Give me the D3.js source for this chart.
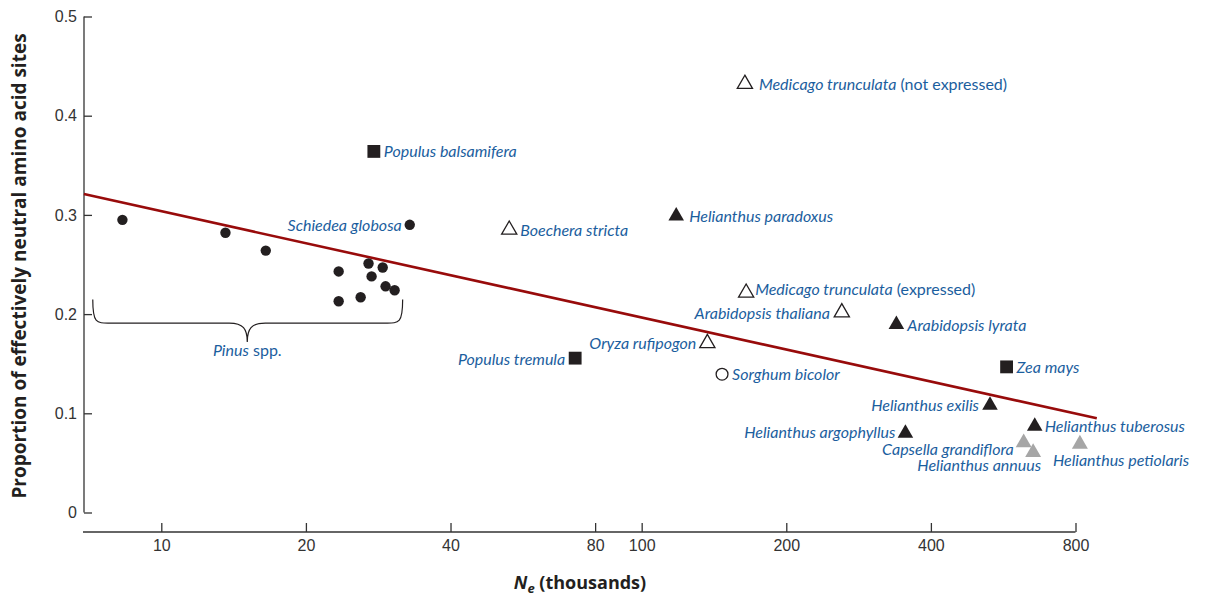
<!DOCTYPE html>
<html>
<head>
<meta charset="utf-8">
<script src="https://cdn.jsdelivr.net/npm/d3@7"></script>
<style>
  body { margin: 0; background: #fff; }
  svg { display: block; font-family: Lato, "Open Sans", sans-serif; }
  .tick text { font-size: 16px; fill: #333; }
  .lbl { font-size: 16px; fill: #1b5e9e; font-style: italic; }
  .lbl .up { font-style: normal; }
  .title { font-family: "Open Sans", sans-serif; font-size: 18px; font-weight: bold; fill: #231f20; }
</style>
</head>
<body>
<div id="chart"></div>
<script>

// Pinus spp. (filled circles)
var pinusNe   = [8.3, 13.6, 16.5, 23.4, 27.0, 28.9, 27.4, 29.3, 30.6, 23.4, 26.0];
var pinusProp = [0.295, 0.282, 0.264, 0.243, 0.251, 0.247, 0.238, 0.228, 0.224, 0.213, 0.217];

// labelled species
var speciesNames = ["Schiedea globosa", "Populus balsamifera", "Medicago trunculata|(not expressed)",
	"Helianthus paradoxus", "Boechera stricta", "Medicago trunculata|(expressed)", "Arabidopsis thaliana",
	"Arabidopsis lyrata", "Oryza rufipogon", "Populus tremula", "Sorghum bicolor", "Zea mays",
	"Helianthus exilis", "Helianthus argophyllus", "Helianthus tuberosus", "Capsella grandiflora",
	"Helianthus annuus", "Helianthus petiolaris"];
var speciesNe   = [32.9, 27.7, 164, 118, 53.0, 165, 261, 339, 137, 72.7, 147, 575, 531, 354, 658, 624, 653, 817];
var speciesProp = [0.290, 0.364, 0.432, 0.299, 0.285, 0.2215, 0.2017, 0.1896, 0.1707, 0.1556, 0.1394, 0.1468,
	0.108, 0.080, 0.087, 0.0704, 0.0606, 0.069];
var speciesMarker = ["dot", "square", "openTri", "tri", "openTri", "openTri", "openTri", "tri", "openTri",
	"square", "openCircle", "square", "tri", "tri", "tri", "greyTri", "greyTri", "greyTri"];

// fitted regression line (end points)
var fitNe   = [6.9, 886];
var fitProp = [0.321, 0.095];

var xTicks = [10, 20, 40, 80, 100, 200, 400, 800];
var yTicks = [0, 0.1, 0.2, 0.3, 0.4, 0.5];

// label offsets from the marker: [dx, dy, anchor]
var labelPos = {
	"Schiedea globosa": [-8, 6, "end"],
	"Populus balsamifera": [10, 6, "start"],
	"Medicago trunculata|(not expressed)": [14, 6, "start"],
	"Helianthus paradoxus": [13, 6, "start"],
	"Boechera stricta": [11, 6, "start"],
	"Medicago trunculata|(expressed)": [9, 2, "start"],
	"Arabidopsis thaliana": [-12, 7, "end"],
	"Arabidopsis lyrata": [11, 7, "start"],
	"Oryza rufipogon": [-11, 6, "end"],
	"Populus tremula": [-10, 7, "end"],
	"Sorghum bicolor": [10, 6, "start"],
	"Zea mays": [10, 6, "start"],
	"Helianthus exilis": [-11, 6, "end"],
	"Helianthus argophyllus": [-10, 5, "end"],
	"Helianthus tuberosus": [10, 6, "start"],
	"Capsella grandiflora": [-10, 12, "end"],
	"Helianthus annuus": [8, 19, "end"],
	"Helianthus petiolaris": [-27, 22, "start"]
};

var width = 1206, height = 596;

var svg = d3.select("#chart").append("svg")
	.attr("width", width)
	.attr("height", height);

var x = d3.scaleLog().domain([10, 800]).range([161.3, 1075.5]);
var y = d3.scaleLinear().domain([0, 0.5]).range([512.5, 16.5]);

// y axis
var yAxis = svg.append("g")
	.attr("transform", "translate(84,0)")
	.call(d3.axisRight(y).tickValues(yTicks).tickSize(8).tickPadding(0)
		.tickFormat(function(d) { return d === 0 ? "0" : d3.format(".1f")(d); }));
yAxis.select(".domain").attr("d", "M0," + y(0.5) + "V" + y(0)).attr("stroke", "#333").attr("stroke-width", 1.3);
yAxis.selectAll(".tick line").attr("stroke", "#333").attr("stroke-width", 1.3);
yAxis.selectAll(".tick text").attr("x", -7).attr("text-anchor", "end");

// x axis
var xAxis = svg.append("g")
	.attr("transform", "translate(0,532)")
	.call(d3.axisTop(x).tickValues(xTicks).tickSize(9).tickFormat(d3.format("d")));
xAxis.select(".domain").attr("d", "M83,0H" + x(800)).attr("stroke", "#333").attr("stroke-width", 1.3);
xAxis.selectAll(".tick line").attr("stroke", "#333").attr("stroke-width", 1.3);
xAxis.selectAll(".tick text").attr("y", 19).attr("dy", 0);

// axis titles
svg.append("text").attr("class", "title")
	.attr("transform", "translate(26,266) rotate(-90)")
	.attr("text-anchor", "middle")
	.style("font-size", "19px")
	.text("Proportion of effectively neutral amino acid sites");

var xt = svg.append("text").attr("class", "title")
	.attr("x", 580).attr("y", 589)
	.attr("text-anchor", "middle");
xt.append("tspan").style("font-style", "italic").text("N");
xt.append("tspan").attr("dy", 4).style("font-size", "13px").style("font-style", "italic").text("e");
xt.append("tspan").attr("dy", -4).text(" (thousands)");

// regression line
svg.append("line")
	.attr("x1", x(fitNe[0])).attr("y1", y(fitProp[0]))
	.attr("x2", x(fitNe[1])).attr("y2", y(fitProp[1]))
	.attr("stroke", "#980b0b").attr("stroke-width", 2.6);

// Pinus points
svg.append("g").selectAll("circle")
	.data(d3.range(pinusNe.length))
	.join("circle")
	.attr("cx", function(i) { return x(pinusNe[i]); })
	.attr("cy", function(i) { return y(pinusProp[i]); })
	.attr("r", 5.2)
	.attr("fill", "#231f20");

// brace under Pinus
var bL = x(7.2), bR = x(31.8), bM = x(15.1);
var bTop = y(0.2146), bMid = y(0.191), bTip = y(0.172);
svg.append("path")
	.attr("d", "M" + bL + "," + bTop +
		"C" + bL + "," + (bMid + 2) + " " + (bL + 4) + "," + bMid + " " + (bL + 20) + "," + bMid +
		"L" + (bM - 18) + "," + bMid +
		"C" + (bM - 4) + "," + bMid + " " + bM + "," + (bMid + 6) + " " + bM + "," + bTip +
		"C" + bM + "," + (bMid + 6) + " " + (bM + 4) + "," + bMid + " " + (bM + 18) + "," + bMid +
		"L" + (bR - 20) + "," + bMid +
		"C" + (bR - 4) + "," + bMid + " " + bR + "," + (bMid + 2) + " " + bR + "," + bTop)
	.attr("fill", "none").attr("stroke", "#231f20").attr("stroke-width", 1.2);

var pl = svg.append("text").attr("class", "lbl")
	.attr("x", bM).attr("y", bTip + 14).attr("text-anchor", "middle");
pl.append("tspan").text("Pinus");
pl.append("tspan").attr("class", "up").text(" spp.");

// species markers
var sym = {
	dot: d3.symbol().type(d3.symbolCircle).size(85),
	square: d3.symbol().type(d3.symbolSquare).size(165),
	tri: d3.symbol().type(d3.symbolTriangle).size(105),
	openTri: d3.symbol().type(d3.symbolTriangle).size(100),
	greyTri: d3.symbol().type(d3.symbolTriangle).size(110),
	openCircle: d3.symbol().type(d3.symbolCircle).size(110)
};

var pts = svg.append("g").selectAll("g")
	.data(d3.range(speciesNames.length))
	.join("g")
	.attr("transform", function(i) { return "translate(" + x(speciesNe[i]) + "," + y(speciesProp[i]) + ")"; });

pts.append("path")
	.attr("d", function(i) { return sym[speciesMarker[i]](); })
	.attr("fill", function(i) {
		var m = speciesMarker[i];
		if (m === "openTri" || m === "openCircle") return "#fff";
		if (m === "greyTri") return "#a6a6a6";
		return "#231f20";
	})
	.attr("stroke", function(i) {
		var m = speciesMarker[i];
		return (m === "openTri" || m === "openCircle") ? "#231f20" : "none";
	})
	.attr("stroke-width", 1.3);

pts.each(function(i) {
	var name = speciesNames[i], p = labelPos[name], parts = name.split("|");
	var t = d3.select(this).append("text").attr("class", "lbl")
		.attr("x", p[0]).attr("y", p[1]).attr("text-anchor", p[2]);
	t.append("tspan").text(parts[0]);
	if (parts[1]) t.append("tspan").attr("class", "up").text(" " + parts[1]);
});

</script>
</body>
</html>
